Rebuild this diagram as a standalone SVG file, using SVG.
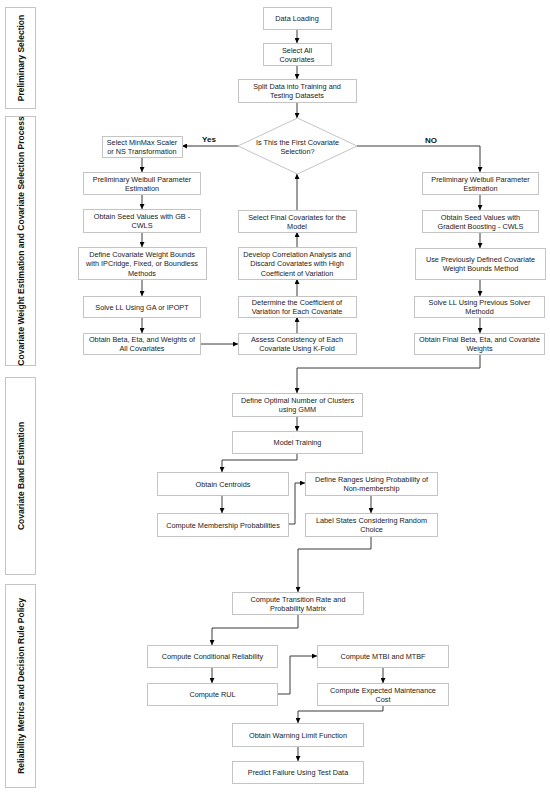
<svg xmlns="http://www.w3.org/2000/svg" width="550" height="794" viewBox="0 0 550 794">
<style>
.bg{fill:#ffffff}
.box{fill:#ffffff;stroke:#c4c4c4;stroke-width:1}
.lane{fill:#ffffff;stroke:#c4c4c4;stroke-width:1}
.t{font-family:"Liberation Sans",Arial,sans-serif;font-size:7.3px;fill:#222222;text-anchor:middle;dominant-baseline:central}
.lt{font-family:"Liberation Sans",Arial,sans-serif;font-size:8.5px;font-weight:bold;fill:#111111;text-anchor:middle;dominant-baseline:central}
.yn{font-family:"Liberation Sans",Arial,sans-serif;font-size:8px;font-weight:bold;fill:#111111;text-anchor:middle;dominant-baseline:central}
.c{fill:none;stroke:#3a3a3a;stroke-width:1;marker-end:url(#ah)}
.cg{fill:none;stroke:#777777;stroke-width:1.5;marker-end:url(#ah)}
</style>
<defs>
<marker id="ah" viewBox="0 0 10 10" refX="10" refY="5" markerWidth="5" markerHeight="5" markerUnits="userSpaceOnUse" orient="auto">
<path d="M0,0 L10,5 L0,10 Z" fill="#000000"/>
</marker>
</defs>
<rect class="bg" x="0" y="0" width="550" height="794"/>

<g id="lanes">
<g id="lane1"><rect class="lane" x="5.5" y="7.5" width="30" height="101"/><text class="lt" transform="translate(21,58) rotate(-90)">Preliminary Selection</text></g>
<g id="lane2"><rect class="lane" x="5.5" y="116.5" width="30" height="249"/><text class="lt" transform="translate(21,241) rotate(-90)">Covariate Weight Estimation and Covariate Selection Process</text></g>
<g id="lane3"><rect class="lane" x="5.5" y="377.5" width="30" height="197"/><text class="lt" transform="translate(21,476) rotate(-90)">Covariate Band Estimation</text></g>
<g id="lane4"><rect class="lane" x="5.5" y="584.5" width="30" height="203"/><text class="lt" transform="translate(21,686) rotate(-90)">Reliability Metrics and Decision Rule Policy</text></g>
</g>

<g id="connectors">
<path class="c" d="M297,29 V43"/>
<path class="c" d="M297,65 V79"/>
<path class="c" d="M297,102 V118"/>
<path class="cg" d="M238,146 H182"/>
<path class="c" d="M357,146 H480 V172"/>
<path class="c" d="M142,157 V172"/>
<path class="c" d="M142,194 V209"/>
<path class="c" d="M142,232 V247"/>
<path class="c" d="M142,279 V296"/>
<path class="c" d="M142,317 V333"/>
<path class="c" d="M200,344 H238"/>
<path class="c" d="M297,333 V317"/>
<path class="c" d="M297,296 V279"/>
<path class="c" d="M297,247 V232"/>
<path class="c" d="M297,210 V174"/>
<path class="c" d="M480,194 V210"/>
<path class="c" d="M480,232 V248"/>
<path class="c" d="M480,279 V296"/>
<path class="c" d="M480,317 V333"/>
<path class="c" d="M480,354 V368 H297 V393"/>
<path class="c" d="M297,416 V431"/>
<path class="c" d="M297,453 V460 H222 V472"/>
<path class="c" d="M222,495 V513"/>
<path class="c" d="M288,524 H295 V483 H305"/>
<path class="c" d="M371,495 V513"/>
<path class="c" d="M371,536 V549 H298 V592"/>
<path class="c" d="M298,614 V628 H212 V645"/>
<path class="c" d="M212,667 V683"/>
<path class="c" d="M277,694 H290 V656 H317"/>
<path class="c" d="M383,667 V683"/>
<path class="c" d="M383,705 V711 H298 V723"/>
<path class="c" d="M298,746 V761"/>
<text class="yn" x="209" y="139">Yes</text>
<text class="yn" x="431" y="140">NO</text>
</g>

<g id="n1"><rect class="box" x="263.5" y="7.5" width="68" height="22"/><text class="t" x="297" y="18.5">Data Loading</text></g>
<g id="n2"><rect class="box" x="263.5" y="43.5" width="68" height="22"/><text class="t" x="297" y="50">Select All</text><text class="t" x="297" y="59">Covariates</text></g>
<g id="n3"><rect class="box" x="238.5" y="79.5" width="118" height="23"/><text class="t" x="297" y="86.5">Split Data into Training and</text><text class="t" x="297" y="95.5">Testing Datasets</text></g>
<g id="d1"><polygon class="box" points="297.5,118 357,146 297.5,174 238,146"/><text class="t" x="297.5" y="142">Is This the First Covariate</text><text class="t" x="297.5" y="151">Selection?</text></g>

<g id="n4"><rect class="box" x="102.5" y="136.5" width="80" height="21"/><text class="t" x="142" y="142.5">Select MinMax Scaler</text><text class="t" x="142" y="151.5">or NS Transformation</text></g>
<g id="n5"><rect class="box" x="83.5" y="172.5" width="117" height="22"/><text class="t" x="142" y="179">Preliminary Weibull Parameter</text><text class="t" x="142" y="188">Estimation</text></g>
<g id="n6"><rect class="box" x="83.5" y="209.5" width="117" height="23"/><text class="t" x="142" y="216.5">Obtain Seed Values with GB -</text><text class="t" x="142" y="225.5">CWLS</text></g>
<g id="n7"><rect class="box" x="78.5" y="247.5" width="128" height="32"/><text class="t" x="142" y="254">Define Covariate Weight Bounds</text><text class="t" x="142" y="263.5">with IPCridge, Fixed, or Boundless</text><text class="t" x="142" y="273">Methods</text></g>
<g id="n8"><rect class="box" x="83.5" y="296.5" width="117" height="21"/><text class="t" x="142" y="307">Solve LL Using GA or IPOPT</text></g>
<g id="n9"><rect class="box" x="83.5" y="333.5" width="117" height="21"/><text class="t" x="142" y="339.5">Obtain Beta, Eta, and Weights of</text><text class="t" x="142" y="348.5">All Covariates</text></g>

<g id="n10"><rect class="box" x="238.5" y="210.5" width="118" height="22"/><text class="t" x="297" y="217">Select Final Covariates for the</text><text class="t" x="297" y="226">Model</text></g>
<g id="n11"><rect class="box" x="238.5" y="247.5" width="118" height="32"/><text class="t" x="297" y="254">Develop Correlation Analysis and</text><text class="t" x="297" y="263.5">Discard Covariates with High</text><text class="t" x="297" y="273">Coefficient of Variation</text></g>
<g id="n12"><rect class="box" x="238.5" y="296.5" width="118" height="21"/><text class="t" x="297" y="302.5">Determine the Coefficient of</text><text class="t" x="297" y="311.5">Variation for Each Covariate</text></g>
<g id="n13"><rect class="box" x="238.5" y="333.5" width="118" height="21"/><text class="t" x="297" y="339.5">Assess Consistency of Each</text><text class="t" x="297" y="348.5">Covariate Using K-Fold</text></g>

<g id="n14"><rect class="box" x="422.5" y="172.5" width="116" height="22"/><text class="t" x="480.5" y="179">Preliminary Weibull Parameter</text><text class="t" x="480.5" y="188">Estimation</text></g>
<g id="n15"><rect class="box" x="422.5" y="210.5" width="116" height="22"/><text class="t" x="480.5" y="217">Obtain Seed Values with</text><text class="t" x="480.5" y="226">Gradient Boosting - CWLS</text></g>
<g id="n16"><rect class="box" x="415.5" y="248.5" width="130" height="31"/><text class="t" x="480.5" y="259">Use Previously Defined Covariate</text><text class="t" x="480.5" y="268">Weight Bounds Method</text></g>
<g id="n17"><rect class="box" x="414.5" y="296.5" width="130" height="21"/><text class="t" x="479.5" y="302.5">Solve LL Using Previous Solver</text><text class="t" x="479.5" y="311.5">Methodd</text></g>
<g id="n18"><rect class="box" x="414.5" y="333.5" width="130" height="21"/><text class="t" x="479.5" y="339.5">Obtain Final Beta, Eta, and Covariate</text><text class="t" x="479.5" y="348.5">Weights</text></g>

<g id="n19"><rect class="box" x="232.5" y="393.5" width="130" height="23"/><text class="t" x="297.5" y="400.5">Define Optimal Number of Clusters</text><text class="t" x="297.5" y="409.5">using GMM</text></g>
<g id="n20"><rect class="box" x="232.5" y="431.5" width="130" height="22"/><text class="t" x="297.5" y="442.5">Model Training</text></g>
<g id="n21"><rect class="box" x="157.5" y="472.5" width="131" height="23"/><text class="t" x="223" y="484">Obtain Centroids</text></g>
<g id="n22"><rect class="box" x="157.5" y="513.5" width="131" height="23"/><text class="t" x="223" y="525">Compute Membership Probabilities</text></g>
<g id="n23"><rect class="box" x="305.5" y="472.5" width="132" height="23"/><text class="t" x="371.5" y="479.5">Define Ranges Using Probability of</text><text class="t" x="371.5" y="488.5">Non-membership</text></g>
<g id="n24"><rect class="box" x="305.5" y="513.5" width="132" height="23"/><text class="t" x="371.5" y="520.5">Label States Considering Random</text><text class="t" x="371.5" y="529.5">Choice</text></g>

<g id="n25"><rect class="box" x="232.5" y="592.5" width="131" height="22"/><text class="t" x="298" y="599">Compute Transition Rate and</text><text class="t" x="298" y="608">Probability Matrix</text></g>
<g id="n26"><rect class="box" x="147.5" y="645.5" width="130" height="22"/><text class="t" x="212.5" y="656.5">Compute Conditional Reliability</text></g>
<g id="n27"><rect class="box" x="147.5" y="683.5" width="130" height="22"/><text class="t" x="212.5" y="694.5">Compute RUL</text></g>
<g id="n28"><rect class="box" x="317.5" y="645.5" width="131" height="22"/><text class="t" x="383" y="656.5">Compute MTBI and MTBF</text></g>
<g id="n29"><rect class="box" x="317.5" y="683.5" width="131" height="22"/><text class="t" x="383" y="690">Compute Expected Maintenance</text><text class="t" x="383" y="699">Cost</text></g>
<g id="n30"><rect class="box" x="232.5" y="723.5" width="131" height="23"/><text class="t" x="298" y="735">Obtain Warning Limit Function</text></g>
<g id="n31"><rect class="box" x="232.5" y="761.5" width="131" height="22"/><text class="t" x="298" y="772.5">Predict Failure Using Test Data</text></g>
</svg>
